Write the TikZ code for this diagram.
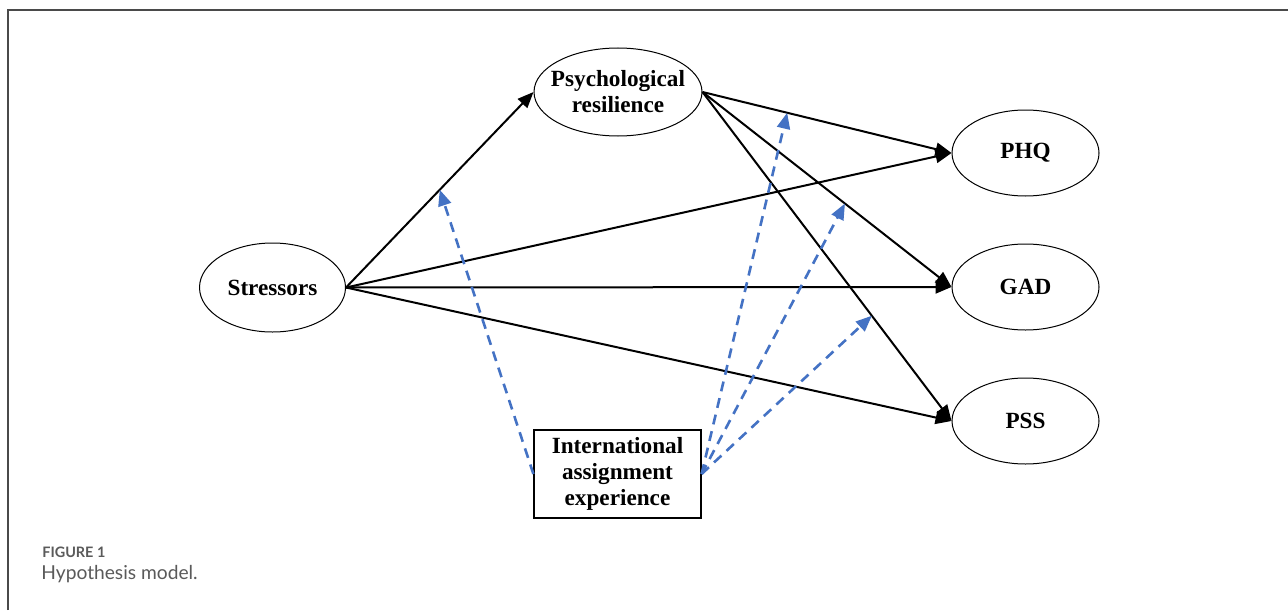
\documentclass[tikz,border=0pt]{standalone}
\usepackage{fontspec}
\setmainfont{Liberation Serif}
\newfontfamily\capfont{Lato}
\usetikzlibrary{shapes.geometric,arrows.meta}
\definecolor{iblue}{HTML}{4472C4}
\definecolor{framegray}{HTML}{4A4A4A}
\definecolor{capgray}{HTML}{5A5A5A}
\tikzset{
  lbl/.style={font=\fontsize{11.6}{13}\selectfont\bfseries, align=center, inner sep=0pt},
  oval/.style={lbl, ellipse, draw=black, line width=0.5pt},
  boxnode/.style={lbl, rectangle, draw=black, line width=0.6pt, minimum width=83.5pt, minimum height=44pt},
  path/.style={draw=black, line width=1pt, -{Triangle[length=8pt,width=6.5pt]}},
  moder/.style={draw=iblue, line width=1.3pt, dash pattern=on 5pt off 3.5pt, -{Triangle[length=8pt,width=6.5pt]}},
}
\begin{document}
\begin{tikzpicture}[x=0.5pt,y=-0.5pt]
\useasboundingbox (0,0) rectangle (1288,610);
\fill[white] (0,0) rectangle (1288,610);
\draw[framegray, line width=1.1pt] (8,610) -- (8,10) -- (1288,10);

\node[oval, minimum width=73pt, minimum height=44.5pt] (s) at (272.5,287.5) {Stressors};
\node[oval, inner xsep=-7pt, inner ysep=-1.5pt, minimum width=84pt, minimum height=44pt] (psy) at (618,92) {Psychological\\resilience};
\node[oval, minimum width=73.5pt, minimum height=43pt] (phq) at (1025.5,153) {PHQ};
\node[oval, minimum width=73.5pt, minimum height=43pt] (gad) at (1025.5,287) {GAD};
\node[oval, minimum width=73.5pt, minimum height=43pt] (pss) at (1025.5,421) {PSS};
\node[boxnode] (iae) at (617.5,474) {International\\assignment\\experience};

\draw[path] (s.east) -- coordinate[pos=0.5] (m1) (psy.west);
\draw[path] (psy.east) -- coordinate[pos=0.34] (m2) (phq.west);
\draw[path] (psy.east) -- coordinate[pos=0.572] (m3) (gad.west);
\draw[path] (psy.east) -- coordinate[pos=0.68] (m4) (pss.west);
\draw[path] (s.east) -- (phq.west);
\draw[path] (s.east) -- (gad.west);
\draw[path] (s.east) -- (pss.west);

\draw[moder] (iae.west) -- (m1);
\draw[moder] (iae.east) -- (m2);
\draw[moder] (iae.east) -- (m3);
\draw[moder] (iae.east) -- (m4);

\node[anchor=base west, inner sep=0pt, text=capgray, font=\capfont\fontsize{7.2}{8}\selectfont\bfseries] (figlbl) at (42,557) {FIGURE 1};
\node[anchor=base west, inner sep=0pt, text=capgray, font=\capfont\fontsize{9.6}{10}\selectfont] (cap) at (41,579) {Hypothesis model.};
\end{tikzpicture}
\end{document}
